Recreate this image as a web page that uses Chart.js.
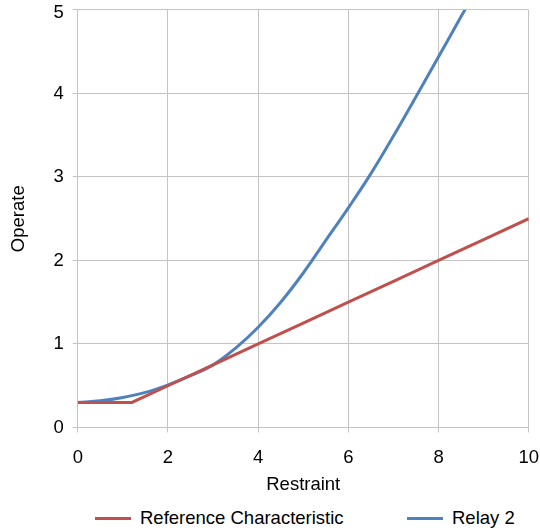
<!DOCTYPE html>
<html>
<head>
<meta charset="utf-8">
<script src="https://cdn.jsdelivr.net/npm/chart.js@4"></script>
<style>
  body { margin: 0; background: #fff; font-family: "Liberation Sans", Arial, sans-serif; overflow: hidden; }
  .wrap { position: relative; width: 540px; height: 500px; overflow: hidden; }
  .box { position: absolute; left: 0; top: -5px; width: 555px; height: 499px; }
  .legend { position: relative; width: 540px; height: 31px; font-size: 18.5px; color: #000; }
  .legend .item { position: absolute; top: 7px; display: flex; align-items: center; }
  .legend .swatch { width: 36px; height: 3px; margin-right: 9px; }
</style>
</head>
<body>
<div class="wrap"><div class="box"><canvas id="chart"></canvas></div></div>
<div class="legend" id="legend"></div>
<script>
// series data
let refX = [0, 1.2, 2, 3, 4, 5, 6, 7, 8, 9, 10];
let refY = [0.3, 0.3, 0.5, 0.75, 1.0, 1.25, 1.5, 1.75, 2.0, 2.25, 2.5];
let relayX = [0, 0.5, 1, 1.5, 2, 2.5, 3, 3.5, 4, 4.5, 5, 5.5, 6, 6.5, 7, 7.5, 8, 8.5, 9];
let relayY = [0.3, 0.32, 0.36, 0.42, 0.51, 0.62, 0.75, 0.95, 1.2, 1.5, 1.85, 2.24, 2.63, 3.04, 3.49, 3.96, 4.44, 4.92, 5.4];
let seriesNames = ["Reference Characteristic", "Relay 2"];
let seriesColors = ["#c0504d", "#4f81bd"];
let xTicks = [0, 2, 4, 6, 8, 10];
let yTicks = [0, 1, 2, 3, 4, 5];

let toPoints = (xs, ys) => xs.map((x, i) => ({ x: x, y: ys[i] }));

let font = { family: "'Liberation Sans', Arial, sans-serif", size: 18.5, lineHeight: 1 };
let gridColor = "#c4c4c4";
let yMax = yTicks[yTicks.length - 1];

let chart = new Chart(document.getElementById("chart"), {
  type: "line",
  data: {
    datasets: [
      {
        label: seriesNames[0],
        data: toPoints(refX, refY),
        borderColor: seriesColors[0],
        backgroundColor: seriesColors[0],
        borderWidth: 3,
        pointRadius: 0,
        tension: 0,
        clip: 0,
      },
      {
        label: seriesNames[1],
        data: toPoints(relayX, relayY),
        borderColor: seriesColors[1],
        backgroundColor: seriesColors[1],
        borderWidth: 3,
        pointRadius: 0,
        tension: 0.4,
        clip: 0,
      },
    ],
  },
  options: {
    responsive: true,
    maintainAspectRatio: false,
    animation: false,
    layout: { padding: { top: 0, right: 0, left: 10, bottom: 0 } },
    plugins: {
      legend: { display: false },
      tooltip: { enabled: false },
    },
    scales: {
      x: {
        type: "linear",
        min: xTicks[0],
        max: xTicks[xTicks.length - 1],
        afterBuildTicks: (axis) => { axis.ticks = xTicks.map((v) => ({ value: v })); },
        ticks: { font: font, color: "#000", padding: 16 },
        grid: { color: gridColor, tickLength: 5, tickColor: gridColor },
        border: { color: gridColor },
        title: { display: true, text: "Restraint", font: font, color: "#000", padding: { top: -7.5, bottom: 0 } },
      },
      y: {
        type: "linear",
        min: yTicks[0],
        max: yMax,
        afterBuildTicks: (axis) => { axis.ticks = yTicks.map((v) => ({ value: v })); },
        ticks: {
          color: "#000",
          padding: 9,
          // top label sits a little lower, as in the original
          callback: (v) => (v === yMax ? ["", String(v)] : String(v)),
          font: (ctx) => (ctx.tick && ctx.tick.value === yMax ? { ...font, lineHeight: 0.32 } : font),
        },
        grid: { color: gridColor, tickLength: 5, tickColor: gridColor },
        border: { color: gridColor },
        title: { display: true, text: "Operate", font: font, color: "#000", padding: { top: 0, bottom: 16 } },
      },
    },
  },
});

// legend below the chart, built from the datasets
let legendBox = document.getElementById("legend");
let legendLeft = [95, 407];
chart.data.datasets.forEach((ds, i) => {
  let item = document.createElement("div");
  item.className = "item";
  item.style.left = legendLeft[i] + "px";
  item.innerHTML = `<span class="swatch" style="background:${ds.borderColor}"></span><span>${ds.label}</span>`;
  legendBox.appendChild(item);
});
</script>
</body>
</html>
